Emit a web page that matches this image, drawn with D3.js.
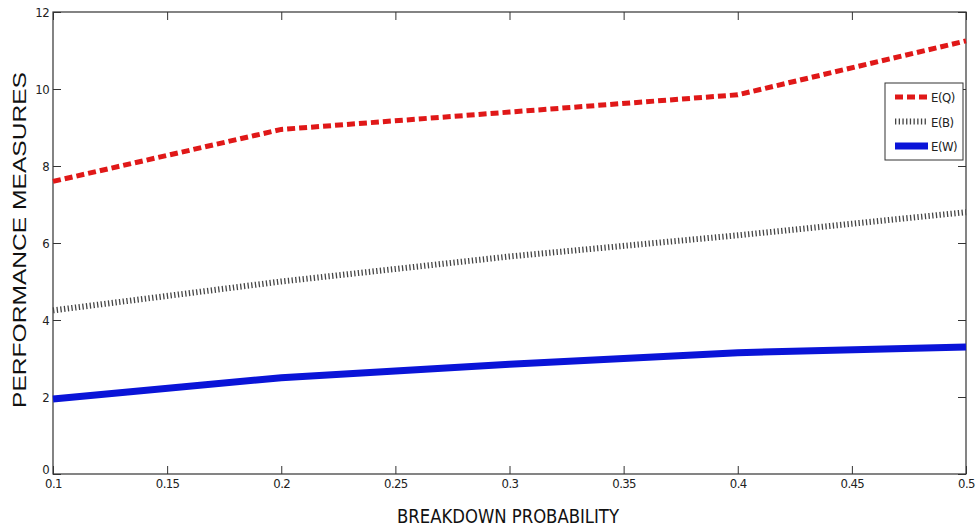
<!DOCTYPE html>
<html>
<head>
<meta charset="utf-8">
<script src="https://cdn.jsdelivr.net/npm/d3@7"></script>
<style>
body { margin: 0; background: #fff; }
.tick text { font-family: "Liberation Sans Narrow", "DejaVu Sans Condensed", sans-serif; font-stretch: condensed; font-size: 13px; letter-spacing: -0.6px; fill: #222; }
.narrow { font-family: "Liberation Sans Narrow", "DejaVu Sans Condensed", sans-serif; font-stretch: condensed; }
</style>
</head>
<body>
<div id="chart"></div>
<script>
var probs = [0.1, 0.2, 0.3, 0.4, 0.5];
var eQ = [7.6, 8.95, 9.4, 9.85, 11.25];
var eB = [4.25, 5.0, 5.65, 6.2, 6.8];
var eW = [1.95, 2.5, 2.85, 3.15, 3.3];
var xTicks = [0.1, 0.15, 0.2, 0.25, 0.3, 0.35, 0.4, 0.45, 0.5];
var yTicks = [0, 2, 4, 6, 8, 10, 12];
var names = ["E(Q)", "E(B)", "E(W)"];

(function() {
var width = 977, height = 529;
var mLeft = 53, mRight = 966, mTop = 12, mBottom = 474;

var svg = d3.select("#chart").append("svg")
    .attr("width", width)
    .attr("height", height);

var x = d3.scaleLinear().domain([0.1, 0.5]).range([mLeft, mRight]);
var y = d3.scaleLinear().domain([0, 12]).range([mBottom, mTop]);

// box
svg.append("rect")
    .attr("x", mLeft).attr("y", mTop)
    .attr("width", mRight - mLeft).attr("height", mBottom - mTop)
    .attr("fill", "none").attr("stroke", "#333").attr("stroke-width", 1.2);

svg.append("g")
    .attr("transform", "translate(0," + mBottom + ")")
    .call(d3.axisBottom(x).tickValues(xTicks).tickSize(-8).tickPadding(5).tickFormat(d3.format("")));
var ya = svg.append("g")
    .attr("transform", "translate(" + mLeft + ",0)")
    .call(d3.axisLeft(y).tickValues(yTicks).tickSize(-8).tickPadding(4));
// "0" sits a bit above the corner as in the original
ya.selectAll(".tick text").filter(function(d) { return d === 0; }).attr("dy", "-0.05em");
svg.append("g")
    .attr("transform", "translate(0," + mTop + ")")
    .call(d3.axisTop(x).tickValues(xTicks).tickSize(-8).tickFormat(""));
svg.append("g")
    .attr("transform", "translate(" + mRight + ",0)")
    .call(d3.axisRight(y).tickValues(yTicks).tickSize(-8).tickFormat(""));
svg.selectAll(".domain").remove();
svg.selectAll(".tick line").attr("stroke", "#333");

var line = d3.line()
    .x(function(d, i) { return x(probs[i]); })
    .y(function(d) { return y(d); });

var styles = [
    { color: "#e01818", width: 5, dash: "8,4" },
    { color: "#444", width: 6, dash: "1.3,2.4" },
    { color: "#0a14d8", width: 7, dash: null }
];
var series = [eQ, eB, eW];

series.forEach(function(s, i) {
    svg.append("path")
        .datum(s)
        .attr("d", line)
        .attr("fill", "none")
        .attr("stroke", styles[i].color)
        .attr("stroke-width", styles[i].width)
        .attr("stroke-dasharray", styles[i].dash);
});

// legend
var lg = svg.append("g");
lg.append("rect")
    .attr("x", 885).attr("y", 83)
    .attr("width", 78).attr("height", 77)
    .attr("fill", "#fff").attr("stroke", "#333").attr("stroke-width", 1);
names.forEach(function(n, i) {
    var ly = 97 + i * 24.5;
    lg.append("line")
        .attr("x1", 895).attr("x2", 928)
        .attr("y1", ly).attr("y2", ly)
        .attr("stroke", styles[i].color)
        .attr("stroke-width", styles[i].width)
        .attr("stroke-dasharray", styles[i].dash);
    lg.append("text")
        .attr("class", "narrow")
        .attr("x", 931).attr("y", ly + 5)
        .attr("font-size", 13)
        .attr("letter-spacing", "-0.5px")
        .attr("fill", "#222")
        .text(n);
});

// axis titles
svg.append("text")
    .attr("class", "narrow")
    .attr("x", 397).attr("y", 523)
    .attr("font-size", 20)
    .attr("textLength", 222)
    .attr("lengthAdjust", "spacingAndGlyphs")
    .attr("fill", "#111")
    .text("BREAKDOWN PROBABILITY");

svg.append("text")
    .attr("transform", "translate(26,408) rotate(-90)")
    .attr("font-family", "'Liberation Sans', Arial, sans-serif")
    .attr("font-size", 19)
    .attr("textLength", 336)
    .attr("lengthAdjust", "spacingAndGlyphs")
    .attr("fill", "#111")
    .text("PERFORMANCE MEASURES");
})();
</script>
</body>
</html>
